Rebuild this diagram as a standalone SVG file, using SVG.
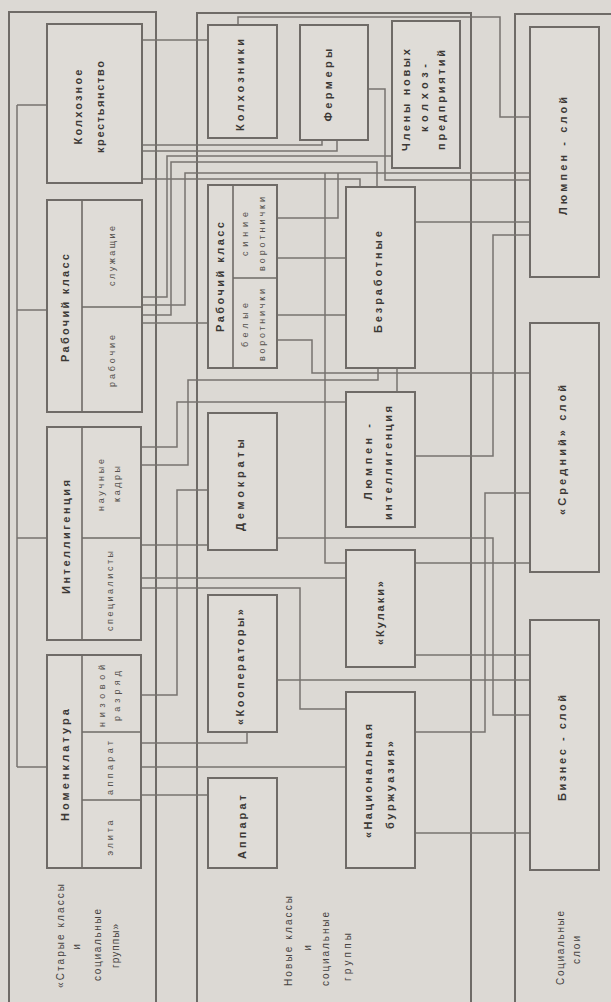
<svg xmlns="http://www.w3.org/2000/svg" width="611" height="1002" viewBox="0 0 611 1002">
<style>
.bg{fill:#dcd9d4}
.panel{fill:none;stroke:#6f6b67;stroke-width:2}
.box{fill:#dfdcd7;stroke:#6f6b67;stroke-width:2}
.div{fill:none;stroke:#6f6b67;stroke-width:1.6}
.con path{fill:none;stroke:#77736f;stroke-width:1.5}
.t{font-family:"Liberation Sans",Arial,sans-serif;font-weight:bold;font-size:11px;fill:#3b3835;text-anchor:middle;dominant-baseline:central}
.s{font-family:"Liberation Sans",Arial,sans-serif;font-size:9px;fill:#55514d;text-anchor:middle;dominant-baseline:central}
.c{font-family:"Liberation Sans",Arial,sans-serif;font-size:10px;fill:#45423f;text-anchor:middle;dominant-baseline:central}
</style>
<rect class="bg" x="0" y="0" width="611" height="1002"/>
<g id="panel-old"><rect class="panel" x="9" y="12" width="147" height="1010"/>
<text class="c" transform="translate(60,936) rotate(-90)" textLength="104">«Старые классы</text>
<text class="c" transform="translate(76,947) rotate(-90)">и</text>
<text class="c" transform="translate(97,945) rotate(-90)" textLength="72">социальные</text>
<text class="c" transform="translate(115,946) rotate(-90)" textLength="44">группы»</text>
</g>
<g id="panel-new"><rect class="panel" x="197" y="13" width="274" height="1010"/>
<text class="c" transform="translate(288,941) rotate(-90)" textLength="90">Новые классы</text>
<text class="c" transform="translate(307,948) rotate(-90)">и</text>
<text class="c" transform="translate(325,949) rotate(-90)" textLength="74">социальные</text>
<text class="c" transform="translate(347,957) rotate(-90)" textLength="48">группы</text>
</g>
<g id="panel-layers"><rect class="panel" x="515" y="14" width="110" height="1010"/>
<text class="c" transform="translate(560,948) rotate(-90)" textLength="74">Социальные</text>
<text class="c" transform="translate(576,950) rotate(-90)" textLength="28">слои</text>
</g>
<g class="con" id="connectors">
<path d="M17,105V767M17,105H47M17,310H47M17,538H47M17,767H47"/>
<path d="M142,40H208"/>
<path d="M142,145H322V140"/>
<path d="M142,151H337V140"/>
<path d="M142,179H360V187"/>
<path d="M142,297H167V156H392"/>
<path d="M142,305H185V173H530"/>
<path d="M142,315H171V162H377V187"/>
<path d="M142,323H208"/>
<path d="M142,447H177V402H346"/>
<path d="M142,465H188V380H378V368"/>
<path d="M142,695H177V490H208"/>
<path d="M142,545H208"/>
<path d="M142,578H346"/>
<path d="M142,588H300V709H346"/>
<path d="M142,743H247V732"/>
<path d="M142,767H346"/>
<path d="M142,795H208"/>
<path d="M238,25V17H500V117H530"/>
<path d="M368,89H385V180H530"/>
<path d="M277,218H338V173"/>
<path d="M277,258H346"/>
<path d="M277,315H346"/>
<path d="M397,368V392"/>
<path d="M415,222H530"/>
<path d="M415,456H493V235H530"/>
<path d="M277,340H312V373H530"/>
<path d="M277,538H493V715H530"/>
<path d="M325,173V563H346"/>
<path d="M415,563H530"/>
<path d="M415,655H530"/>
<path d="M277,680H530"/>
<path d="M415,732H485V493H530"/>
<path d="M415,833H530"/>
</g>
<g id="n-kolkhoz-peasants"><rect class="box" x="47" y="24" width="95" height="159"/>
<text class="t" transform="translate(78,107) rotate(-90)" textLength="75">Колхозное</text>
<text class="t" transform="translate(100,107) rotate(-90)" textLength="92">крестьянство</text></g>
<g id="n-working-class-old"><rect class="box" x="47" y="200" width="95" height="212"/>
<path class="div" d="M82,200V412M82,307H142"/>
<text class="t" transform="translate(65,308) rotate(-90)" textLength="108">Рабочий класс</text>
<text class="s" transform="translate(112,256) rotate(-90)" textLength="60">служащие</text>
<text class="s" transform="translate(112,361) rotate(-90)" textLength="52">рабочие</text></g>
<g id="n-intelligentsia"><rect class="box" x="47" y="427" width="94" height="213"/>
<path class="div" d="M82,427V640M82,538H141"/>
<text class="t" transform="translate(66,537) rotate(-90)" textLength="114">Интеллигенция</text>
<text class="s" transform="translate(101,485) rotate(-90)" textLength="52">научные</text>
<text class="s" transform="translate(117,484) rotate(-90)" textLength="36">кадры</text>
<text class="s" transform="translate(110,591) rotate(-90)" textLength="80">специалисты</text></g>
<g id="n-nomenklatura"><rect class="box" x="47" y="655" width="94" height="213"/>
<path class="div" d="M82,655V868M82,732H141M82,800H141"/>
<text class="t" transform="translate(65,765) rotate(-90)" textLength="112">Номенклатура</text>
<text class="s" transform="translate(102,696) rotate(-90)" textLength="62">низовой</text>
<text class="s" transform="translate(117,696) rotate(-90)" textLength="50">разряд</text>
<text class="s" transform="translate(110,768) rotate(-90)" textLength="54">аппарат</text>
<text class="s" transform="translate(110,838) rotate(-90)" textLength="35">элита</text></g>
<g id="n-kolkhozniki"><rect class="box" x="208" y="25" width="69" height="113"/>
<text class="t" transform="translate(240,85) rotate(-90)" textLength="92">Колхозники</text></g>
<g id="n-farmers"><rect class="box" x="300" y="25" width="68" height="115"/>
<text class="t" transform="translate(328,85) rotate(-90)" textLength="73">Фермеры</text></g>
<g id="n-members"><rect class="box" x="392" y="21" width="68" height="147"/>
<text class="t" transform="translate(406,100) rotate(-90)" textLength="102">Члены новых</text>
<text class="t" transform="translate(424,98) rotate(-90)" textLength="68">колхоз-</text>
<text class="t" transform="translate(441,100) rotate(-90)" textLength="100">предприятий</text></g>
<g id="n-working-class-new"><rect class="box" x="208" y="185" width="69" height="183"/>
<path class="div" d="M233,185V368M233,278H277"/>
<text class="t" transform="translate(220,277) rotate(-90)" textLength="110">Рабочий класс</text>
<text class="s" transform="translate(245,234) rotate(-90)" textLength="44">синие</text>
<text class="s" transform="translate(262,234) rotate(-90)" textLength="74">воротнички</text>
<text class="s" transform="translate(245,325) rotate(-90)" textLength="44">белые</text>
<text class="s" transform="translate(262,325) rotate(-90)" textLength="72">воротнички</text></g>
<g id="n-unemployed"><rect class="box" x="346" y="187" width="69" height="181"/>
<text class="t" transform="translate(378,282) rotate(-90)" textLength="102">Безработные</text></g>
<g id="n-democrats"><rect class="box" x="208" y="413" width="69" height="137"/>
<text class="t" transform="translate(240,485) rotate(-90)" textLength="92">Демократы</text></g>
<g id="n-lumpen-intel"><rect class="box" x="346" y="392" width="69" height="135"/>
<text class="t" transform="translate(368,462) rotate(-90)" textLength="76">Люмпен -</text>
<text class="t" transform="translate(388,463) rotate(-90)" textLength="114">интеллигенция</text></g>
<g id="n-cooperators"><rect class="box" x="208" y="595" width="69" height="137"/>
<text class="t" transform="translate(240,667) rotate(-90)" textLength="116">«Кооператоры»</text></g>
<g id="n-kulaki"><rect class="box" x="346" y="550" width="69" height="117"/>
<text class="t" transform="translate(380,613) rotate(-90)" textLength="64">«Кулаки»</text></g>
<g id="n-nat-bourgeoisie"><rect class="box" x="346" y="692" width="69" height="176"/>
<text class="t" transform="translate(368,781) rotate(-90)" textLength="114">«Национальная</text>
<text class="t" transform="translate(390,785) rotate(-90)" textLength="88">буржуазия»</text></g>
<g id="n-apparat"><rect class="box" x="208" y="778" width="69" height="90"/>
<text class="t" transform="translate(242,827) rotate(-90)" textLength="64">Аппарат</text></g>
<g id="n-lumpen-layer"><rect class="box" x="530" y="27" width="69" height="250"/>
<text class="t" transform="translate(563,156) rotate(-90)" textLength="118">Люмпен - слой</text></g>
<g id="n-middle-layer"><rect class="box" x="530" y="323" width="69" height="249"/>
<text class="t" transform="translate(562,450) rotate(-90)" textLength="130">«Средний» слой</text></g>
<g id="n-business-layer"><rect class="box" x="530" y="620" width="69" height="250"/>
<text class="t" transform="translate(562,748) rotate(-90)" textLength="106">Бизнес - слой</text></g>
</svg>
